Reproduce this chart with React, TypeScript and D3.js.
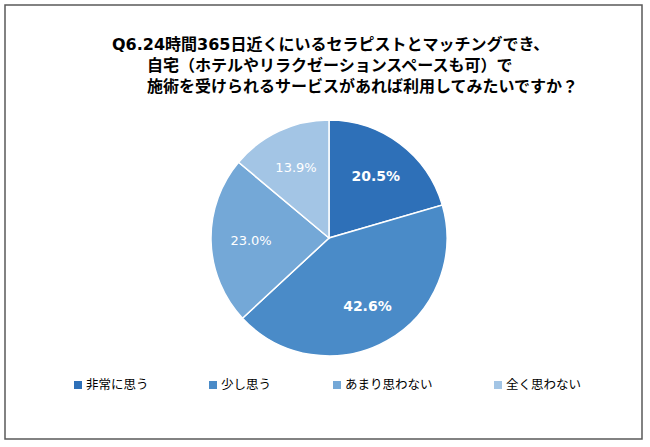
import React from "react";
import * as d3 from "d3";

const titleLines = [
  "Q6.24時間365日近くにいるセラピストとマッチングでき、",
  "自宅（ホテルやリラクゼーションスペースも可）で",
  "施術を受けられるサービスがあれば利用してみたいですか？",
];
const categories = ["非常に思う", "少し思う", "あまり思わない", "全く思わない"];
const values = [20.5, 42.6, 23.0, 13.9];
const colors = ["#2E70B8", "#4A8BC8", "#74A8D7", "#A3C5E5"];
const boldLabel = [true, true, false, false];

export default function App() {
  const W = 650, H = 447;
  const cx = 329, cy = 238, r = 118;
  const pie = d3.pie<number>().sort(null).value((d) => d);
  const arcs = pie(values);
  const arc = d3.arc<d3.PieArcDatum<number>>().innerRadius(0).outerRadius(r);
  const labelArc = d3.arc<d3.PieArcDatum<number>>().innerRadius(78).outerRadius(78);
  const legendX = [74, 209, 333, 494];
  const font = "'DejaVu Sans', 'Noto Sans CJK JP', sans-serif";
  const cjk = "'Noto Sans CJK JP', sans-serif";
  return (
    <svg width={W} height={H} style={{ position: "absolute", left: 0, top: 0 }}>
      <rect x={0} y={0} width={W} height={H} fill="#fff" />
      <rect x={5} y={5} width={637} height={434} fill="#fff" stroke="#595959" strokeWidth={1.5} />
      <g fontFamily={font} fontWeight="bold" fontSize={16} fill="#000">
        {titleLines.map((t, i) => (
          <text key={i} x={i === 0 ? 112 : 147} y={50 + i * 21}>{t}</text>
        ))}
      </g>
      <g transform={`translate(${cx},${cy})`}>
        {arcs.map((a, i) => (
          <path key={i} d={arc(a) || ""} fill={colors[i]} stroke="#fff" strokeWidth={1.5} />
        ))}
        {arcs.map((a, i) => {
          const [x, y] = labelArc.centroid(a);
          return (
            <text key={i} x={x} y={y} dy="0.35em" textAnchor="middle" fill="#fff"
              fontFamily={font} fontWeight={boldLabel[i] ? "bold" : "normal"}
              fontSize={boldLabel[i] ? 14 : 13}>
              {values[i].toFixed(1)}%
            </text>
          );
        })}
      </g>
      <g fontFamily={cjk} fontSize={12.5} fill="#000">
        {categories.map((c, i) => (
          <g key={i} transform={`translate(${legendX[i]},385)`}>
            <rect x={0} y={-4} width={8} height={8} fill={colors[i]} />
            <text x={12} y={0} dy="0.35em">{c}</text>
          </g>
        ))}
      </g>
    </svg>
  );
}
